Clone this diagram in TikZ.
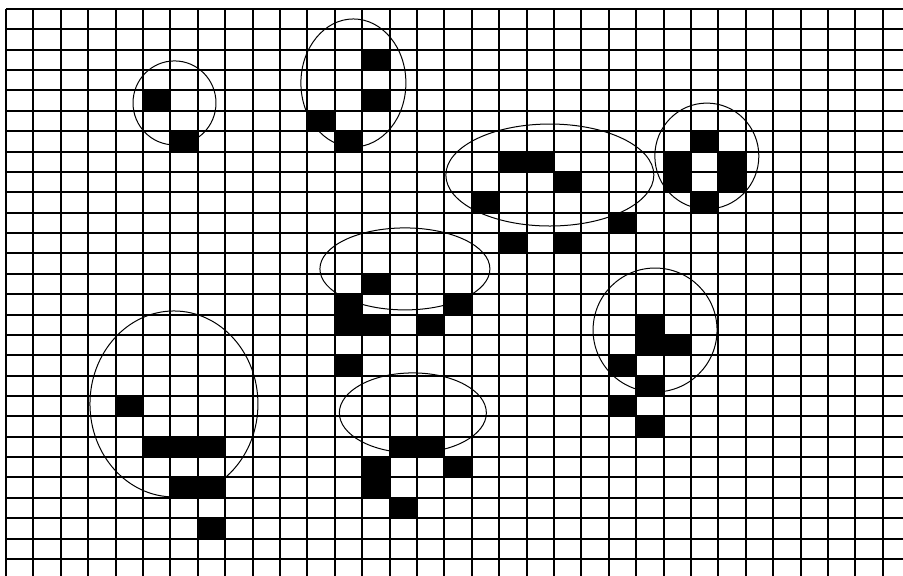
\documentclass[tikz,border=0pt]{standalone}
\begin{document}
\begin{tikzpicture}[
  x=2.74mm, y=-2.037mm,
  gridline/.style={line width=0.2mm, color=black},
  cell/.style={fill=black},
  ring/.style={draw=black, line width=0.1mm}
]
\useasboundingbox (-0.219,-0.442) rectangle (32.74,27.83);
\fill[white] (-0.219,-0.442) rectangle (32.74,27.83);

% filled cells (column/row)
\foreach \c/\r in {5/4, 6/6,
                   13/2, 13/4, 11/5, 12/6,
                   18/7, 19/7, 20/8, 17/9, 22/10, 18/11, 20/11,
                   25/6, 24/7, 26/7, 24/8, 26/8, 25/9,
                   13/13, 12/14, 12/15, 13/15, 16/14, 15/15, 12/17,
                   23/15, 23/16, 24/16, 22/17, 23/18, 22/19, 23/20,
                   4/19, 5/21, 6/21, 7/21, 6/23, 7/23, 7/25,
                   14/21, 15/21, 13/22, 13/23, 16/22, 14/24}
  \fill[cell] (\c,\r) rectangle ++(1,1);

% grid
\foreach \c in {0,...,32}
  \draw[gridline] (\c,0) -- (\c,27.83);
\foreach \r in {0,...,27}
  \draw[gridline] (0,\r) -- (32.74,\r);

% rings round the groups
\draw[ring] (6.15,4.61)   ellipse [x radius=4.15mm, y radius=4.2mm];
\draw[ring] (12.68,3.63)  ellipse [x radius=5.25mm, y radius=6.4mm];
\draw[ring] (19.85,8.15)  ellipse [x radius=10.4mm, y radius=5.1mm];
\draw[ring] (25.58,7.22)  ellipse [x radius=5.2mm,  y radius=5.3mm];
\draw[ring] (14.56,12.76) ellipse [x radius=8.5mm,  y radius=4.1mm];
\draw[ring] (23.69,15.76) ellipse [x radius=6.2mm,  y radius=6.2mm];
\draw[ring] (6.13,19.39)  ellipse [x radius=8.4mm,  y radius=9.3mm];
\draw[ring] (14.85,19.83) ellipse [x radius=7.35mm, y radius=4.0mm];
\end{tikzpicture}
\end{document}
